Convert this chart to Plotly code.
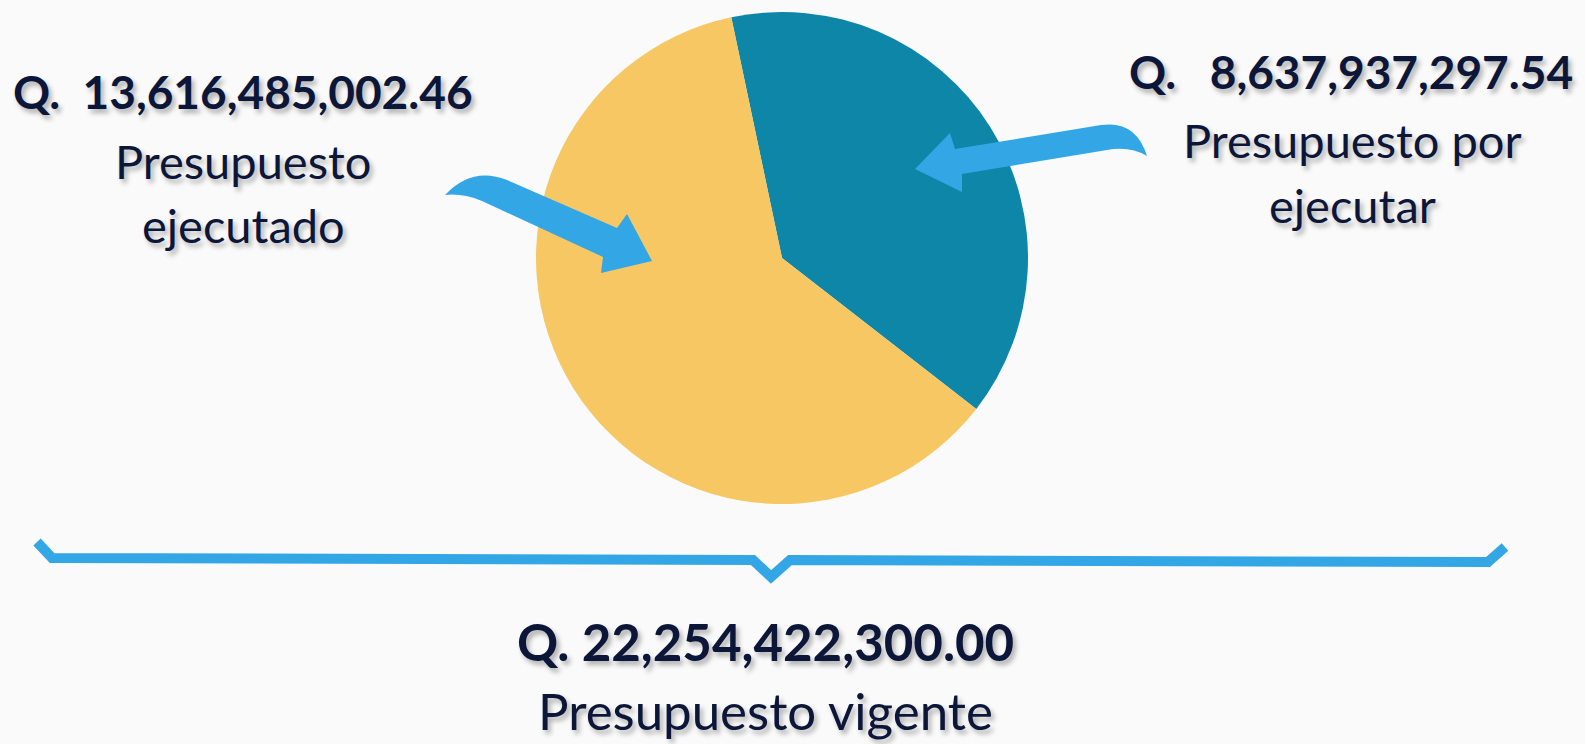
import plotly.graph_objects as go

W, H = 1585, 744

# ---- data ----
slice_labels = ["Presupuesto por ejecutar", "Presupuesto ejecutado"]
slice_values = [8637937297.54, 13616485002.46]
slice_colors = ["#0E86A8", "#F6C762"]
total_label = "Presupuesto vigente"
total_value = 22254422300.00

TEXT = "#0B1638"
BLUE = "#33A6E6"
BG = "#FAFAFA"
FONT = "Lato"
SHADOW = "3px 4px 5px rgba(0,0,0,0.30)"


def px(x):
    return x / W


def py(y):
    return 1 - y / H


def path(cmds):
    out = []
    for c in cmds:
        if isinstance(c, str):
            out.append(c)
        else:
            out.append(f"{px(c[0]):.5f},{py(c[1]):.5f}")
    return " ".join(out)


def fmt(v):
    return f"{v:,.2f}"


fig = go.Figure()
fig.add_trace(go.Pie(
    labels=slice_labels,
    values=slice_values,
    marker=dict(colors=slice_colors, line=dict(width=0)),
    sort=False,
    direction="clockwise",
    rotation=-11.9,
    textinfo="none",
    hoverinfo="label+value+percent",
    showlegend=False,
    domain=dict(x=[px(536), px(1028)], y=[py(504), py(12)]),
))

shapes = []
# left arrow
shapes.append(dict(
    type="path", xref="paper", yref="paper", fillcolor=BLUE, line=dict(width=0),
    path=path(["M", (445, 195), "Q", (472, 166), (507, 180), "L", (617, 228), "L", (627, 214),
               "L", (652, 261), "L", (601, 273), "L", (603, 257), "L", (482, 201),
               "Q", (462, 193), (445, 195), "Z"]),
))
# right arrow
shapes.append(dict(
    type="path", xref="paper", yref="paper", fillcolor=BLUE, line=dict(width=0),
    path=path(["M", (1147, 156), "Q", (1136, 120), (1101, 125), "L", (955, 149), "L", (950, 133),
               "L", (915, 169), "L", (962, 192), "L", (962, 174), "L", (1107, 150),
               "Q", (1130, 146), (1147, 156), "Z"]),
))
# bracket
shapes.append(dict(
    type="path", xref="paper", yref="paper", line=dict(color=BLUE, width=10),
    path=path(["M", (37, 542), "L", (52, 558), "L", (753, 560), "L", (771, 577), "L", (790, 560),
               "L", (1488, 562), "L", (1505, 547)]),
))

annotations = []


def add_text(x, y, text, size, bold, anchor="middle"):
    annotations.append(dict(
        x=px(x), y=py(y), xref="paper", yref="paper", xanchor="center", yanchor=anchor,
        text=text, showarrow=False,
        font=dict(family=FONT, size=size, color=TEXT, weight=700 if bold else 400, shadow=SHADOW),
    ))


add_text(243, 91, "Q.\u00a0 " + fmt(slice_values[1]), 46, True)
add_text(243, 161, "Presupuesto", 47, False)
add_text(243, 225, "ejecutado", 47, False)
add_text(1351, 71, "Q.\u00a0\u00a0 " + fmt(slice_values[0]), 46, True)
add_text(1352, 140, "Presupuesto por", 47, False)
add_text(1352, 205, "ejecutar", 47, False)
add_text(765, 641, "Q. " + fmt(total_value), 51, True)
add_text(765, 743, total_label, 51, False, anchor="bottom")

fig.update_layout(
    width=W, height=H,
    margin=dict(l=0, r=0, t=0, b=0),
    paper_bgcolor=BG,
    plot_bgcolor=BG,
    shapes=shapes,
    annotations=annotations,
)

fig.write_html(
    "out.html",
    config={"displayModeBar": False},
    post_script="document.body.style.margin='0';document.body.style.background='" + BG + "';"
                "document.documentElement.style.overflow='hidden';",
)
